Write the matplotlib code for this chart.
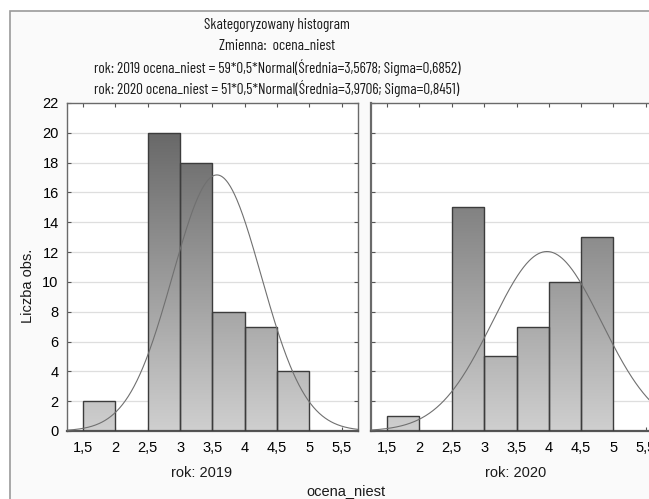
import numpy as np
import matplotlib
matplotlib.use("Agg")
import matplotlib.pyplot as plt
from matplotlib.patches import Rectangle
from matplotlib.colors import LinearSegmentedColormap
from matplotlib import font_manager

names = {f.name for f in font_manager.fontManager.ttflist}
CANDIDATES = ['Barlow Condensed', 'Fira Sans Extra Condensed', 'Sofia Sans Extra Condensed',
              'Saira Condensed', 'Archivo Narrow', 'Roboto Condensed', 'Liberation Sans']
TITLE_FONT = [next(f for f in CANDIDATES if f in names), 'DejaVu Sans']
plt.rcParams['font.family'] = ['Liberation Sans', 'DejaVu Sans']

# ---- data ----
bin_left = [1.5, 2.0, 2.5, 3.0, 3.5, 4.0, 4.5]
counts_2019 = [2, 0, 20, 18, 8, 7, 4]
counts_2020 = [1, 0, 15, 5, 7, 10, 13]
bin_width = 0.5
n_2019, mean_2019, sigma_2019 = 59, 3.5678, 0.6852
n_2020, mean_2020, sigma_2020 = 51, 3.9706, 0.8451
x_ticks = [1.5, 2, 2.5, 3, 3.5, 4, 4.5, 5, 5.5]
x_tick_labels = ['1,5', '2', '2,5', '3', '3,5', '4', '4,5', '5', '5,5']
y_ticks = [0, 2, 4, 6, 8, 10, 12, 14, 16, 18, 20, 22]
panel_labels = ['rok: 2019', 'rok: 2020']
title_lines = [
    'Skategoryzowany histogram',
    'Zmienna:  ocena_niest',
    'rok: 2019 ocena_niest = 59*0,5*Normal(Średnia=3,5678; Sigma=0,6852)',
    'rok: 2020 ocena_niest = 51*0,5*Normal(Średnia=3,9706; Sigma=0,8451)',
]

W, H = 649, 499
fig = plt.figure(figsize=(W / 100, H / 100), dpi=100)
fig.patch.set_facecolor('white')
FS = 10.5

# title font size chosen so the long title line is ~369 px wide, like the reference
r = fig.canvas.get_renderer()
t = fig.text(0, 0, title_lines[2], fontsize=10, family=TITLE_FONT)
wref = t.get_window_extent(r).width
t.remove()
TFS = min(11.0, 10 * 369 / wref)

# outer frame
frame = Rectangle((10 / W, -0.05), 1.2, (H - 11) / H + 0.05, transform=fig.transFigure,
                  facecolor='#fafafa', edgecolor='#9a9a9a', linewidth=1.2, zorder=-5)
fig.patches.append(frame)

cmap = LinearSegmentedColormap.from_list('g', ['#cfcfcf', '#5e5e5e'])
ymax = 22


def px_axes(x0, y0, x1, y1):
    return fig.add_axes([x0 / W, 1 - y1 / H, (x1 - x0) / W, (y1 - y0) / H])


def draw_panel(ax, counts, n, mu, sd):
    ax.set_facecolor('white')
    ax.set_xlim(1.25, 5.75)
    ax.set_ylim(0, ymax)
    for y in y_ticks[1:-1]:
        ax.axhline(y, color='#dedede', lw=0.9, zorder=1)
    grad = np.linspace(0, 1, 256).reshape(-1, 1)
    for xl, c in zip(bin_left, counts):
        if c <= 0:
            continue
        rect = Rectangle((xl, 0), bin_width, c, facecolor='none',
                         edgecolor='#3c3c3c', lw=1.0, zorder=3)
        ax.add_patch(rect)
        im = ax.imshow(grad, cmap=cmap, origin='lower', aspect='auto',
                       extent=(xl, xl + bin_width, 0, ymax), vmin=0, vmax=1, zorder=2)
        im.set_clip_path(rect)
    xs = np.linspace(1.25, 5.75, 400)
    ys = n * bin_width * np.exp(-0.5 * ((xs - mu) / sd) ** 2) / (sd * np.sqrt(2 * np.pi))
    ax.plot(xs, ys, color='#707070', lw=0.8, zorder=4)
    ax.set_xlim(1.25, 5.75)
    ax.set_ylim(0, ymax)
    ax.set_xticks(x_ticks)
    ax.set_xticklabels(x_tick_labels, fontsize=FS)
    ax.set_yticks(y_ticks)
    ax.tick_params(direction='in', length=3, color='#555555', top=True, right=True,
                   pad=7)
    for s in ax.spines.values():
        s.set_color('#6a6a6a')
        s.set_linewidth(1.0)
    ax.spines['bottom'].set_linewidth(1.6)
    ax.spines['bottom'].set_color('#555555')


ax1 = px_axes(67, 103, 358, 431)
draw_panel(ax1, counts_2019, n_2019, mean_2019, sigma_2019)
ax1.tick_params(axis='y', labelsize=FS, pad=6)

ax2 = px_axes(371, 103, 662, 431)
draw_panel(ax2, counts_2020, n_2020, mean_2020, sigma_2020)
ax2.tick_params(axis='y', labelleft=False)
ax2.spines['left'].set_linewidth(1.6)

# titles
for i, line in enumerate(title_lines):
    fig.text(277 / W, 1 - (25 + i * 21.3) / H, line, ha='center', va='center',
             fontsize=TFS, family=TITLE_FONT, color='#1a1a1a')

fig.text(28 / W, 1 - 286 / H, 'Liczba obs.', rotation=90, ha='center', va='center',
         fontsize=FS, color='#1a1a1a')
fig.text(202 / W, 1 - 473 / H, panel_labels[0], ha='center', va='center',
         fontsize=FS, color='#1a1a1a')
fig.text(516 / W, 1 - 473 / H, panel_labels[1], ha='center', va='center',
         fontsize=FS, color='#1a1a1a')
fig.text(346 / W, 1 - 491 / H, 'ocena_niest', ha='center', va='center',
         fontsize=FS, color='#1a1a1a')

fig.savefig('out.png', dpi=100)
